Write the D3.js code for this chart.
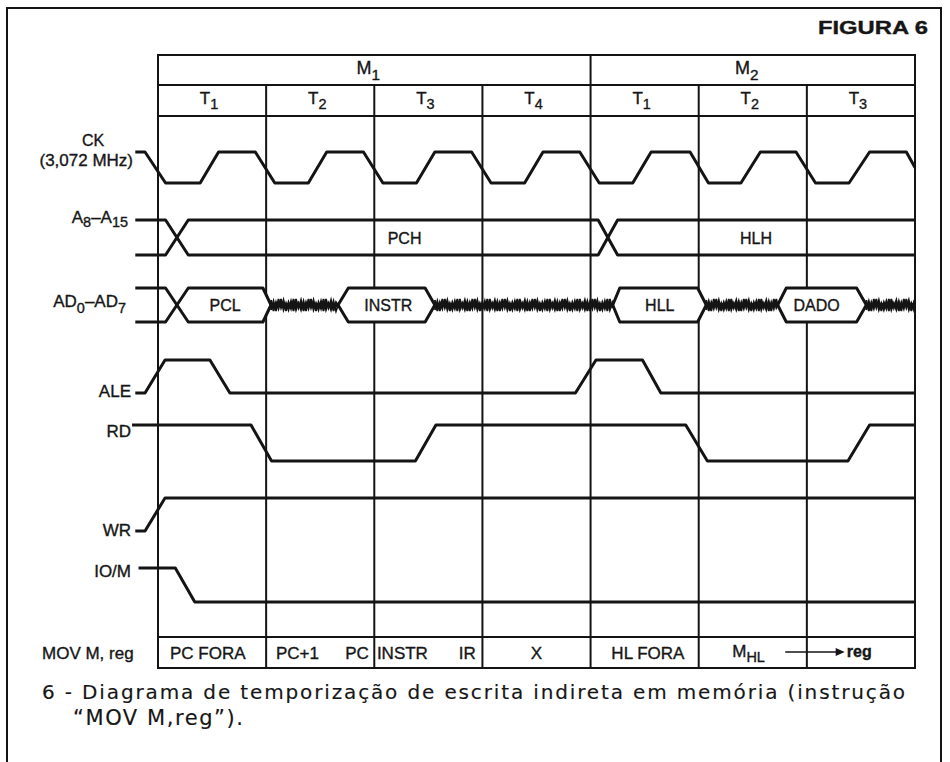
<!DOCTYPE html>
<html>
<head>
<meta charset="utf-8">
<script src="https://cdn.jsdelivr.net/npm/d3@7"></script>
<style>
  body { margin: 0; background: #fff; }
  text { font-family: "Liberation Sans", Arial, sans-serif; fill: #161616; stroke: #161616; stroke-width: 0.35px; }
  text.caption { font-family: "DejaVu Sans", sans-serif; stroke-width: 0.15px; }
</style>
</head>
<body>
<div id="chart"></div>
<script>
// T-states of the two machine cycles
const states = ["1", "2", "3", "4", "1", "2", "3"];
const cycles = [
    {name: "1", from: 0, to: 4},
    {name: "2", from: 4, to: 7}
];

// digital signals: [time in T-states, level 0/1]
const ck = [[-0.21, 1], [-0.12, 1], [0.07, 0], [0.39, 0], [0.56, 1], [0.9, 1],
    [1.08, 0], [1.39, 0], [1.56, 1], [1.9, 1], [2.08, 0], [2.39, 0], [2.56, 1], [2.9, 1],
    [3.08, 0], [3.39, 0], [3.56, 1], [3.9, 1], [4.08, 0], [4.39, 0], [4.56, 1], [4.92, 1],
    [5.09, 0], [5.39, 0], [5.57, 1], [5.9, 1], [6.08, 0], [6.39, 0], [6.58, 1], [6.92, 1],
    [7.0, 0.5]];
const ale = [[-0.21, 0], [-0.12, 0], [0.065, 1], [0.48, 1], [0.665, 0], [3.86, 0],
    [4.05, 1], [4.48, 1], [4.65, 0], [7, 0]];
const rd = [[-0.24, 1], [0.86, 1], [1.05, 0], [2.38, 0], [2.57, 1], [4.88, 1],
    [5.08, 0], [6.38, 0], [6.58, 1], [7, 1]];
const wr = [[-0.21, 0], [-0.12, 0], [0.065, 1], [7, 1]];
const iom = [[-0.18, 1], [0.16, 1], [0.34, 0], [7, 0]];

// buses: windows [label, open point, full from, full to, close point, label at]
const addrBus = [
    ["", -0.21, -0.21, 0.07, 0.175, null],
    ["PCH", 0.175, 0.28, 4.07, 4.16, 2.28],
    ["HLH", 4.16, 4.25, 7, 7, 5.53]
];
const dataBus = [
    ["", -0.21, -0.21, 0.07, 0.175, null],
    ["PCL", 0.175, 0.28, 0.97, 1.045, 0.62],
    ["INSTR", 1.665, 1.76, 2.47, 2.56, 2.13],
    ["HLL", 4.205, 4.27, 4.99, 5.07, 4.64],
    ["DADO", 5.73, 5.81, 6.46, 6.55, 6.09]
];
// undefined (floating) spans of AD0-AD7
const floating = [[1.045, 1.665], [2.56, 4.205], [5.07, 5.73], [6.55, 7.0]];

// bottom row: what happens in each state
const opTitle = "MOV M, reg";
const opLabels = [["PC FORA", 0.46], ["PC+1", 1.29], ["PC", 1.84], ["INSTR", 2.26],
    ["IR", 2.86], ["X", 3.5], ["HL FORA", 4.53]];

const width = 950, height = 762;
const svg = d3.select("#chart").append("svg")
    .attr("width", width)
    .attr("height", height);

const x = d3.scaleLinear().domain([0, 7]).range([158, 915]);
const ink = "#141414";

// rows: [low y, high y]
const rows = {
    ck: [183, 152], addr: [255, 220], data: [322, 288],
    ale: [393, 360], rd: [461, 425], wr: [531, 498], iom: [602, 568]
};
const yOf = key => d3.scaleLinear().domain([0, 1]).range(rows[key]);

// outer frame
svg.append("rect")
    .attr("x", 7).attr("y", 8)
    .attr("width", 934).attr("height", 780)
    .attr("fill", "none").attr("stroke", ink).attr("stroke-width", 2);

svg.append("text")
    .attr("x", 928).attr("y", 34)
    .attr("text-anchor", "end")
    .attr("font-size", 18).attr("font-weight", "bold")
    .attr("textLength", 110).attr("lengthAdjust", "spacingAndGlyphs")
    .text("FIGURA 6");

function rich(g, px, py, parts, size, anchor, shift) {
    const t = g.append("text")
        .attr("x", px).attr("y", py)
        .attr("font-size", size)
        .attr("text-anchor", anchor || "start");
    let cur = 0;
    parts.forEach(([s, sub]) => {
        const want = sub ? (shift || size * 0.3) : 0;
        t.append("tspan")
            .attr("dy", want - cur)
            .attr("font-size", sub ? size * 0.85 : size)
            .text(s);
        cur = want;
    });
    return t;
}

// grid
const grid = svg.append("g")
    .attr("stroke", ink).attr("stroke-width", 2).attr("fill", "none");
[55, 85, 116, 637, 668].forEach(y => {
    grid.append("line")
        .attr("x1", x(0) - 1).attr("x2", x(7) + 1)
        .attr("y1", y).attr("y2", y);
});
d3.range(0, 8).forEach(i => {
    const top = (i === 0 || i === 4 || i === 7) ? 55 : 85;
    grid.append("line")
        .attr("x1", x(i)).attr("x2", x(i))
        .attr("y1", top).attr("y2", 668);
});

// cycle + state labels
cycles.forEach(c => {
    rich(svg, x((c.from + c.to) / 2) - 6, 74, [["M"], [c.name, true]], 18, "middle", 6);
});
states.forEach((s, i) => {
    rich(svg, x(i + 0.5) - 3, 104, [["T"], [s, true]], 17, "middle", 5);
});

// signals
const waves = svg.append("g")
    .attr("stroke", ink).attr("stroke-width", 3)
    .attr("fill", "none").attr("stroke-linejoin", "round");

function wave(data, key) {
    const y = yOf(key);
    waves.append("path")
        .datum(data)
        .attr("d", d3.line().x(d => x(d[0])).y(d => y(d[1])));
}
wave(ck, "ck");
wave(ale, "ale");
wave(rd, "rd");
wave(wr, "wr");
wave(iom, "iom");

function bus(windows, key, blank) {
    const y = yOf(key);
    const line = d3.line().x(d => x(d[0])).y(d => y(d[1]));
    windows.forEach(([label, a, b, c, d, at]) => {
        const openLvl = a === b ? null : 0.5;
        const closeLvl = c === d ? null : 0.5;
        if (blank && label) {
            // valid data window hides the grid behind it
            waves.append("path")
                .datum([[a, 0.5], [b, 1], [c, 1], [d, 0.5], [c, 0], [b, 0]])
                .attr("d", line.curve(d3.curveLinearClosed))
                .attr("fill", "#fff").attr("stroke", "none");
            line.curve(d3.curveLinear);
        }
        [1, 0].forEach(lvl => {
            const pts = [];
            if (openLvl !== null) pts.push([a, openLvl]);
            pts.push([b, lvl], [c, lvl]);
            if (closeLvl !== null) pts.push([d, closeLvl]);
            waves.append("path").datum(pts).attr("d", line);
        });
        if (label) {
            svg.append("text")
                .attr("x", x(at === null ? (b + c) / 2 : at))
                .attr("y", y(0.5) + 6)
                .attr("text-anchor", "middle")
                .attr("font-size", 16)
                .text(label);
        }
    });
}
bus(addrBus, "addr", false);
bus(dataBus, "data", true);

// floating bus drawn as a tangled scribble
const jag = [5, -4, 6, -6, 3, -5, 6, -3, 4, -6, 5, -2];
const yData = yOf("data");
floating.forEach(([a, b]) => {
    [0, 5].forEach(phase => {
        const pts = d3.range(x(a), x(b), 2.5).map((px, i) => [px, yData(0.5) + jag[(i + phase) % jag.length]]);
        pts.push([x(b), yData(0.5)]);
        svg.append("path")
            .datum(pts)
            .attr("d", d3.line())
            .attr("fill", "none").attr("stroke", ink)
            .attr("stroke-width", 1.8);
    });
    svg.append("line")
        .attr("x1", x(a)).attr("x2", x(b))
        .attr("y1", yData(0.5)).attr("y2", yData(0.5))
        .attr("stroke", ink).attr("stroke-width", 4);
});

// signal names
svg.append("text").attr("x", 93).attr("y", 146).attr("text-anchor", "middle")
    .attr("font-size", 16).text("CK");
svg.append("text").attr("x", 133).attr("y", 166).attr("text-anchor", "end")
    .attr("font-size", 17).text("(3,072 MHz)");
rich(svg, 128, 223, [["A"], ["8", true], ["–A"], ["15", true]], 17, "end", 4);
rich(svg, 126, 307, [["AD"], ["0", true], ["–AD"], ["7", true]], 17, "end", 6);
[["ALE", 397], ["RD", 437], ["WR", 536], ["IO/M", 577]].forEach(([n, y]) => {
    svg.append("text").attr("x", 131).attr("y", y)
        .attr("text-anchor", "end").attr("font-size", 17).text(n);
});

// bottom row
svg.append("text").attr("x", 42).attr("y", 659)
    .attr("font-size", 17).text(opTitle);
opLabels.forEach(([s, at]) => {
    svg.append("text").attr("x", x(at)).attr("y", 659)
        .attr("text-anchor", "middle").attr("font-size", 17).text(s);
});
rich(svg, x(5.31), 657, [["M"], ["HL", true]], 17, "start", 5);
svg.append("line")
    .attr("x1", x(5.8)).attr("x2", x(6.3))
    .attr("y1", 652).attr("y2", 652)
    .attr("stroke", ink).attr("stroke-width", 1.6);
svg.append("path")
    .attr("d", `M${x(6.35)},652 L${x(6.35) - 9},648 L${x(6.35) - 9},656 Z`)
    .attr("fill", ink);
svg.append("text").attr("x", x(6.37)).attr("y", 657)
    .attr("font-size", 16).attr("font-weight", "bold").text("reg");

// caption
svg.append("text").attr("class", "caption")
    .attr("x", 42).attr("y", 699)
    .attr("font-size", 20)
    .attr("textLength", 863).attr("lengthAdjust", "spacing")
    .text("6 - Diagrama de temporização de escrita indireta em memória (instrução");
svg.append("text").attr("class", "caption")
    .attr("x", 73).attr("y", 725)
    .attr("font-size", 21)
    .attr("textLength", 170).attr("lengthAdjust", "spacing")
    .text("“MOV M,reg”).");
</script>
</body>
</html>
